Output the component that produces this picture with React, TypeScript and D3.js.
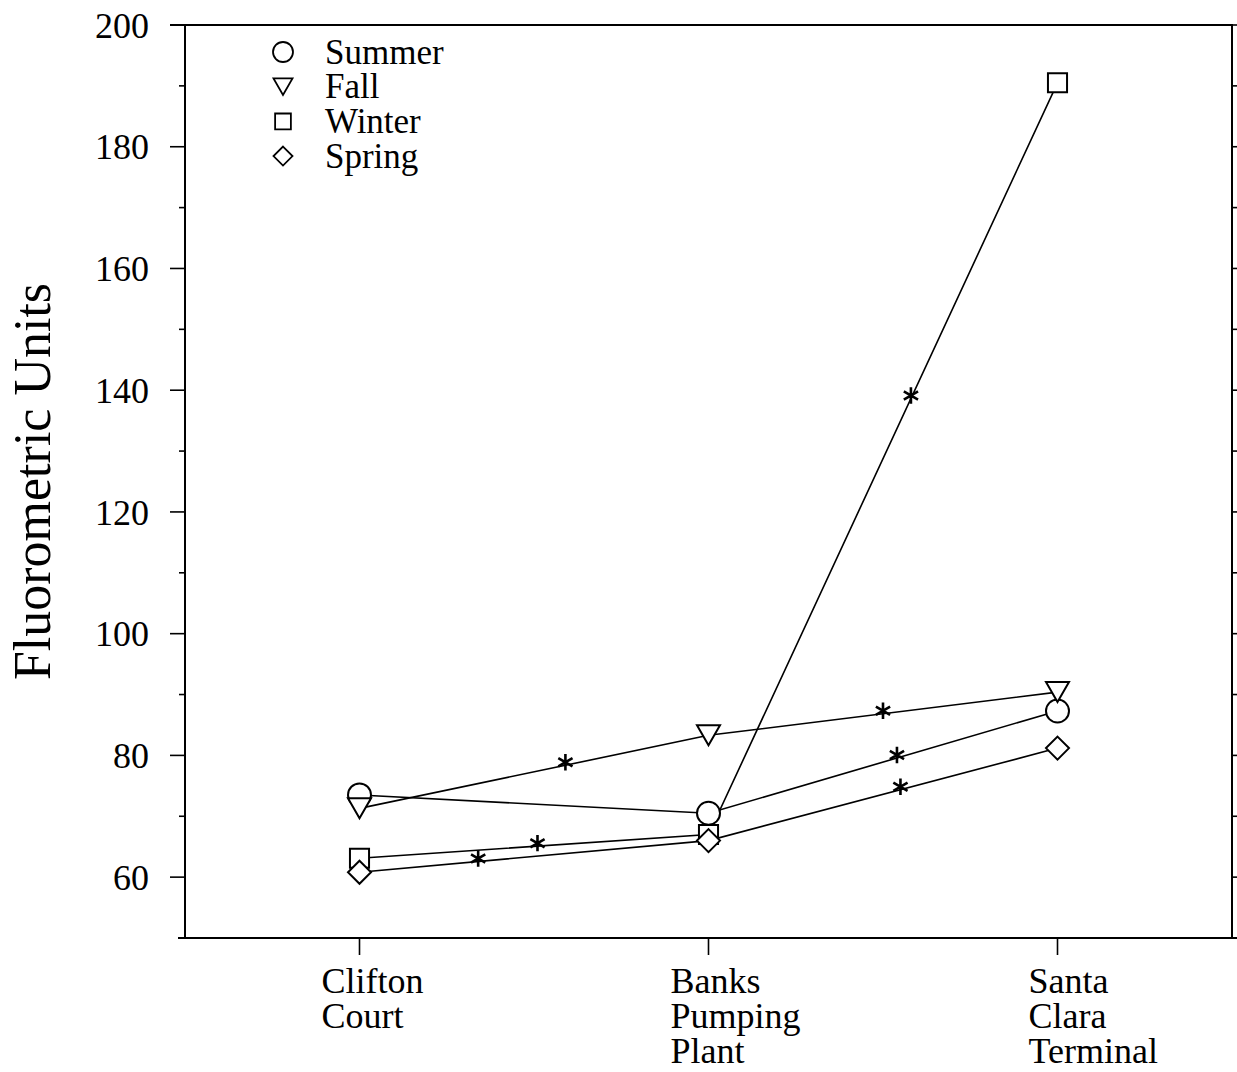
import React from 'react';
import * as d3 from 'd3';

// sites along the aqueduct
const SITES = [['Clifton', 'Court'], ['Banks', 'Pumping', 'Plant'], ['Santa', 'Clara', 'Terminal']];

const SERIES = ['Summer', 'Fall', 'Winter', 'Spring'];
const SUMMER = [73.5, 70.5, 87.3];
const FALL = [71.3, 83.3, 90.4];
const WINTER = [63.1, 67.0, 190.5];
const SPRING = [60.8, 66.0, 81.2];
const VALUES: Record<string, number[]> = { Summer: SUMMER, Fall: FALL, Winter: WINTER, Spring: SPRING };

// significance asterisks: which series, and where along the x axis (site index)
const STAR_SERIES = ['Fall', 'Winter', 'Spring', 'Fall', 'Winter', 'Summer', 'Spring'];
const STAR_AT = [0.59, 0.51, 0.34, 1.5, 1.58, 1.54, 1.55];

const Y_TICKS = [60, 80, 100, 120, 140, 160, 180, 200];
const Y_MINOR = d3.range(50, 201, 10);

const W = 1237, H = 1072;
const L = 185, R = 1232, T = 25, B = 938;
const FONT = '"Liberation Serif", "Times New Roman", serif';

function markerPath(kind: string, s: number): string {
  // s = half size
  if (kind === 'Summer') {
    return `M${-s},0A${s},${s} 0 1,0 ${s},0A${s},${s} 0 1,0 ${-s},0Z`;
  }
  if (kind === 'Fall') {
    const h = s * 0.87;
    return `M${-s},${-h}L${s},${-h}L0,${h}Z`;
  }
  if (kind === 'Winter') {
    const q = s * 0.83;
    return `M${-q},${-q}L${q},${-q}L${q},${q}L${-q},${q}Z`;
  }
  return `M0,${-s}L${s},0L0,${s}L${-s},0Z`;
}

export default function App() {
  const x = d3.scaleLinear().domain([-0.5, 2.5]).range([L, R]);
  const y = d3.scaleLinear().domain([50, 200]).range([B, T]);
  const line = d3.line<number>().x((_, i) => x(i)).y(d => y(d));
  const star = d3.symbol(d3.symbolAsterisk, 190);

  const starPts = STAR_SERIES.map((s, i) => {
    const at = STAR_AT[i];
    const vals = VALUES[s];
    const i0 = Math.floor(at);
    const v = vals[i0] + (vals[i0 + 1] - vals[i0]) * (at - i0);
    return { x: x(at), y: y(v) - 3 };
  });

  return (
    <div style={{ position: 'absolute', left: 0, top: 0 }}>
      <svg width={W} height={H} style={{ display: 'block', background: '#fff' }} fontFamily={FONT}>
        {/* frame */}
        <g stroke="#000" strokeWidth={2} fill="none">
          <line x1={170} x2={R + 1} y1={T} y2={T} />
          <line x1={178} x2={W} y1={B} y2={B} />
          <line x1={L} x2={L} y1={T} y2={B} />
          <line x1={R} x2={R} y1={T} y2={B} />
        </g>
        {/* y ticks */}
        <g stroke="#000" strokeWidth={1.6}>
          {Y_MINOR.map(v => {
            const major = Y_TICKS.includes(v);
            return (
              <g key={v}>
                <line x1={major ? L - 15 : L - 6} x2={L} y1={y(v)} y2={y(v)} />
                <line x1={R} x2={R + 5} y1={y(v)} y2={y(v)} />
              </g>
            );
          })}
        </g>
        {Y_TICKS.map(v => (
          <text key={v} x={L - 36} y={y(v)} dy="0.35em" textAnchor="end" fontSize={36}>{v}</text>
        ))}
        <text transform={`translate(50,${(T + B) / 2}) rotate(-90)`} textAnchor="middle" fontSize={52}>
          Fluorometric Units
        </text>
        {/* x ticks and labels */}
        {SITES.map((lines, i) => (
          <g key={i}>
            <line x1={x(i)} x2={x(i)} y1={B} y2={B + 17} stroke="#000" strokeWidth={1.6} />
            <text x={x(i) - (i === 2 ? 29 : 38)} y={993} fontSize={36}>
              {lines.map((t, j) => (
                <tspan key={j} x={x(i) - (i === 2 ? 29 : 38)} dy={j === 0 ? 0 : 35}>{t}</tspan>
              ))}
            </text>
          </g>
        ))}
        {/* series lines */}
        {SERIES.map(s => (
          <path key={s} d={line(VALUES[s]) ?? ''} fill="none" stroke="#000" strokeWidth={1.6} />
        ))}
        {/* asterisks */}
        {starPts.map((p, i) => (
          <path key={i} d={star() ?? ''} transform={`translate(${p.x},${p.y})`} stroke="#000" strokeWidth={2.6} fill="none" />
        ))}
        {/* markers */}
        {SERIES.map(s =>
          VALUES[s].map((v, i) => (
            <path key={s + i} d={markerPath(s, 11.5)} transform={`translate(${x(i)},${y(v)})`}
              fill="#fff" stroke="#000" strokeWidth={2} />
          ))
        )}
        {/* legend */}
        {SERIES.map((s, i) => (
          <g key={s} transform={`translate(283,${52 + i * 34.7})`}>
            <path d={markerPath(s, s === 'Summer' ? 10 : 9.5)} fill="#fff" stroke="#000" strokeWidth={1.8} />
            <text x={42} dy="0.33em" fontSize={35}>{s}</text>
          </g>
        ))}
      </svg>
    </div>
  );
}
